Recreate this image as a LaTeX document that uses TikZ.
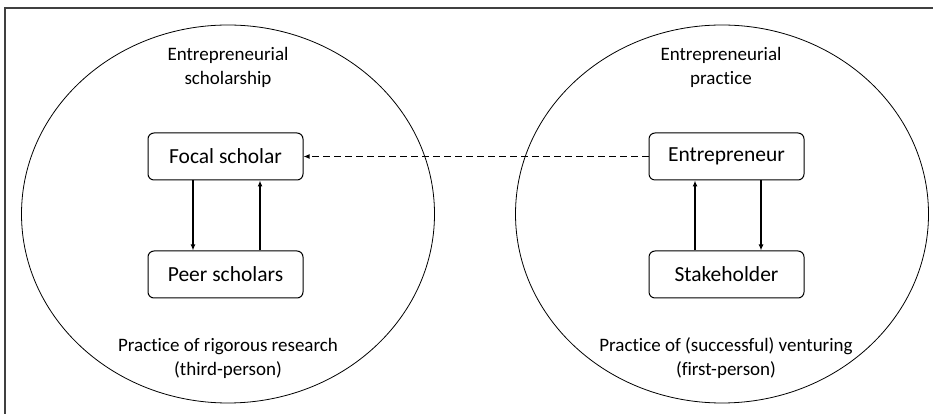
\documentclass[tikz,border=0pt]{standalone}
\usepackage{fontspec}
\setmainfont{Carlito}[Ligatures={NoCommon,NoDiscretionary}]
\usepackage{tikz}
\usetikzlibrary{arrows,arrows.meta,positioning,shapes,calc}

\begin{document}
\begin{tikzpicture}[x=1pt,y=1pt,
    actor/.style={draw,rounded corners=6pt,line width=1pt,fill=white,font=\fontsize{21.5}{25}\selectfont, minimum width=155pt, minimum height=47pt, inner sep=0pt},
    sphere/.style={draw,ellipse,line width=0.8pt,minimum width=413pt,minimum height=378pt,inner sep=0pt},
    caption/.style={font=\fontsize{19}{24}\selectfont, align=center},
    link/.style={line width=1.4pt,-{Latex[length=6pt,width=5pt]}}
    ]
    %cadre
    \useasboundingbox (0,0) rectangle (933,414);
    \draw[line width=1.4pt, black!75] (5,0) -- (5,406) -- (933,406);

    \node[sphere] (scholarship) at (228,200) {};
    \node[sphere] (practice)    at (722,200) {};
    \node[caption] (scholtitle) at (228,347) {Entrepreneurial\\scholarship};
    \node[caption] (practitle)  at (721,347) {Entrepreneurial\\practice};
    \node[caption] (scholnote)  at (228,56)  {Practice of rigorous research\\(third-person)};
    \node[caption] (pracnote)   at (726,56)  {Practice of (successful) venturing\\(first-person)};
    \node[actor] (focal)        at (225.5,257.5) {Focal scholar};
    \node[actor] (peers)        at (225.5,139.5) {Peer scholars};
    \node[actor] (entre)        at (726.5,257.5) {Entrepreneur};
    \node[actor] (stake)        at (726.5,139.5) {Stakeholder};
    \draw[link] ([xshift=-32.5pt]focal.south) -- ([xshift=-32.5pt]peers.north);
    \draw[link] ([xshift=34.5pt]peers.north) -- ([xshift=34.5pt]focal.south);
    \draw[link] ([xshift=-31.5pt]stake.north) -- ([xshift=-31.5pt]entre.south);
    \draw[link] ([xshift=34.5pt]entre.south) -- ([xshift=34.5pt]stake.north);
    \draw[link,line width=1.7pt,dash pattern=on 7pt off 4pt] (entre) -- (focal);
\end{tikzpicture}
\end{document}
